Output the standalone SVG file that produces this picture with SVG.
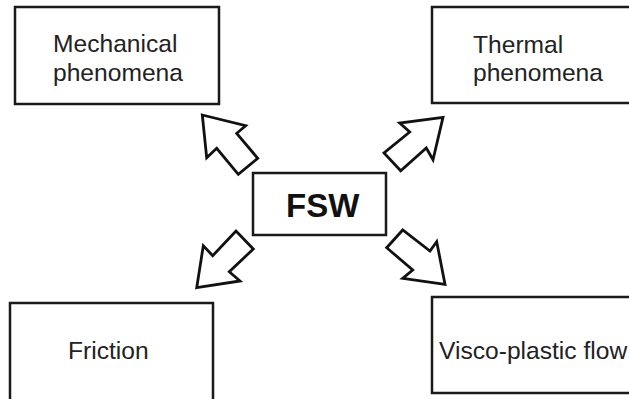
<svg xmlns="http://www.w3.org/2000/svg" width="629" height="399" viewBox="0 0 629 399">
<style>
.box{fill:#fff;stroke:#1a1a1a;stroke-width:2.5}
.arr{fill:#fff;stroke:#111;stroke-width:2.8;stroke-linejoin:miter}
.t{font-family:"Liberation Sans",Arial,sans-serif;font-size:24.6px;fill:#222}
.b{font-family:"Liberation Sans",Arial,sans-serif;font-size:33px;font-weight:bold;fill:#111}
</style>
<rect width="629" height="399" fill="#fff"/>
<g id="mechanical">
<rect class="box" x="15" y="7" width="204" height="97"/>
<text class="t" x="53" y="52">Mechanical</text>
<text class="t" x="53" y="81">phenomena</text>
</g>
<g id="thermal">
<rect class="box" x="432" y="7" width="220" height="96"/>
<text class="t" x="473" y="53">Thermal</text>
<text class="t" x="473" y="81">phenomena</text>
</g>
<g id="fsw">
<rect class="box" x="253" y="173" width="133" height="62"/>
<text class="b" x="286" y="217">FSW</text>
</g>
<g id="friction">
<rect class="box" x="10" y="303" width="203" height="110"/>
<text class="t" x="68" y="359">Friction</text>
</g>
<g id="visco">
<rect class="box" x="432" y="297" width="220" height="96"/>
<text class="t" x="439" y="359">Visco-plastic flow</text>
</g>
<g id="connectors">
<polygon class="arr" points="202.3,115 245.7,125.7 236.7,133.3 257.7,158.3 238.3,174.3 216.7,148.3 206.7,157.7"/>
<polygon class="arr" points="443,117.3 399.7,123 409.7,132 384,153 400.7,170.7 426.3,148 433,159.7"/>
<polygon class="arr" points="196.7,287.7 240,281 229.3,271.7 253.3,249 236,231 212.7,255.7 203.3,245.7"/>
<polygon class="arr" points="445,284.3 402.7,278.3 412.7,270 386.7,247.7 402.7,230 430,251 436.7,241.7"/>
</g>
</svg>
